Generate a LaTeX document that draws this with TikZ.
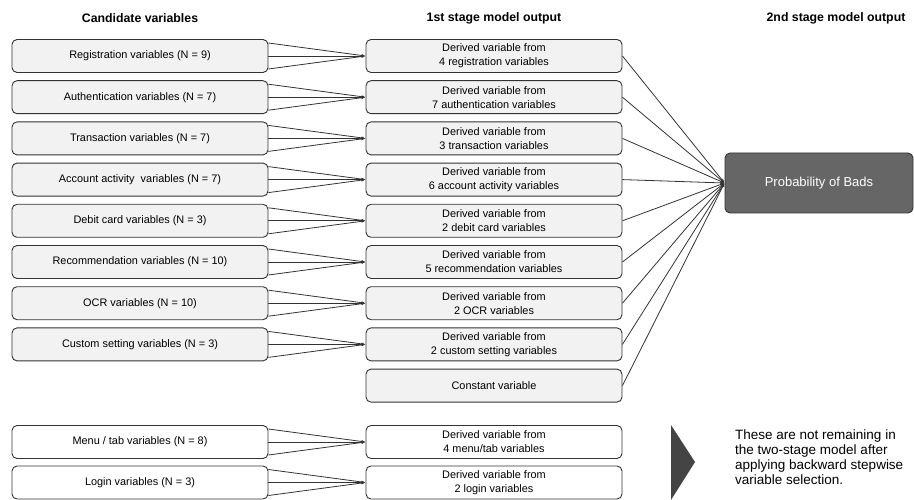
\documentclass[tikz,border=0pt]{standalone}
\usepackage{fontspec}
\setmainfont{Liberation Sans}
\usepackage{xcolor}
\definecolor{BoxGrey}{HTML}{F2F2F2}
\definecolor{LineGrey}{HTML}{333333}
\definecolor{ProbGrey}{HTML}{666666}
\definecolor{ArrowGrey}{HTML}{444444}
\usetikzlibrary{arrows.meta,positioning}
\newcommand\BoxWidth{256}
\newcommand\BoxHeight{33}
\newcommand\LeftX{140}
\newcommand\MidX{494}
\newcommand\RowSep{41.2}
\tikzstyle{candbox}=[rectangle,rounded corners=5pt,draw=LineGrey,line width=0.9pt,fill=BoxGrey,
                     text centered,minimum height=\BoxHeight pt,minimum width=\BoxWidth pt,
                     font=\fontsize{10.9}{12}\selectfont]
\tikzstyle{dropbox}=[candbox,fill=white]
\tikzstyle{derivbox}=[candbox,align=center,font=\fontsize{10.9}{14}\selectfont]
\tikzstyle{header}=[font=\bfseries\fontsize{12.3}{14}\selectfont]
\tikzstyle{feed}=[line width=0.8pt,draw=LineGrey,-{Latex[length=4pt,width=3pt]}]

\begin{document}
\begin{tikzpicture}[x=1pt,y=-1pt]
      \useasboundingbox (0,0) rectangle (914,500);
      % headers
      \node[header] (hcand) at (140,18) {Candidate variables};
      \node[header] (hfirst) at (494,18) {1st stage model output};
      \node[header] (hsecond) at (836,18) {2nd stage model output};
      % candidate variables
      \node[candbox] (cand1) at (\LeftX,56+\RowSep*0) {Registration variables (N = 9)};
      \node[candbox] (cand2) at (\LeftX,56+\RowSep*1) {Authentication variables (N = 7)};
      \node[candbox] (cand3) at (\LeftX,56+\RowSep*2) {Transaction variables (N = 7)};
      \node[candbox] (cand4) at (\LeftX,56+\RowSep*3) {Account activity\ \ variables (N = 7)};
      \node[candbox] (cand5) at (\LeftX,56+\RowSep*4) {Debit card variables (N = 3)};
      \node[candbox] (cand6) at (\LeftX,56+\RowSep*5) {Recommendation variables (N = 10)};
      \node[candbox] (cand7) at (\LeftX,56+\RowSep*6) {OCR variables (N = 10)};
      \node[candbox] (cand8) at (\LeftX,56+\RowSep*7) {Custom setting variables (N = 3)};
      \node[dropbox] (cand9) at (\LeftX,442) {Menu / tab variables (N = 8)};
      \node[dropbox] (cand10) at (\LeftX,482.5) {Login variables (N = 3)};
      % 1st stage model output
      \node[derivbox] (deriv1) at (\MidX,56+\RowSep*0) {Derived variable from\\4 registration variables};
      \node[derivbox] (deriv2) at (\MidX,56+\RowSep*1) {Derived variable from\\7 authentication variables};
      \node[derivbox] (deriv3) at (\MidX,56+\RowSep*2) {Derived variable from\\3 transaction variables};
      \node[derivbox] (deriv4) at (\MidX,56+\RowSep*3) {Derived variable from\\6 account activity variables};
      \node[derivbox] (deriv5) at (\MidX,56+\RowSep*4) {Derived variable from\\2 debit card variables};
      \node[derivbox] (deriv6) at (\MidX,56+\RowSep*5) {Derived variable from\\5 recommendation variables};
      \node[derivbox] (deriv7) at (\MidX,56+\RowSep*6) {Derived variable from\\2 OCR variables};
      \node[derivbox] (deriv8) at (\MidX,56+\RowSep*7) {Derived variable from\\2 custom setting variables};
      \node[candbox] (const) at (\MidX,56+\RowSep*8) {Constant variable};
      \node[derivbox,fill=white] (deriv9) at (\MidX,442) {Derived variable from\\4 menu/tab variables};
      \node[derivbox,fill=white] (deriv10) at (\MidX,482.5) {Derived variable from\\2 login variables};
      % 2nd stage model output
      \node[candbox,fill=ProbGrey,text=white,minimum width=188pt,minimum height=60pt,
            font=\fontsize{13}{15}\selectfont] (prob) at (819,183) {Probability of Bads};
      % candidates to 1st stage
      \foreach \i in {1,...,10}{
         \draw[feed] ([yshift=13pt]cand\i.east) -- (deriv\i.west);
         \draw[feed] (cand\i.east) -- (deriv\i.west);
         \draw[feed] ([yshift=-13pt]cand\i.east) -- (deriv\i.west);
      }
      % 1st stage to 2nd stage
      \foreach \i in {1,...,8}{
         \draw[feed] (deriv\i.east) -- (prob.west);
      }
      \draw[feed] (const.east) -- (prob.west);
      % note on dropped variables
      \fill[ArrowGrey] (671,425) -- (695,462) -- (671,500) -- cycle;
      \node[anchor=north west,align=left,inner sep=0pt,
            font=\fontsize{13.5}{15}\selectfont] (note) at (735,430)
            {These are not remaining in\\the two-stage model after\\applying backward stepwise\\variable selection.};
   \end{tikzpicture}
\end{document}
